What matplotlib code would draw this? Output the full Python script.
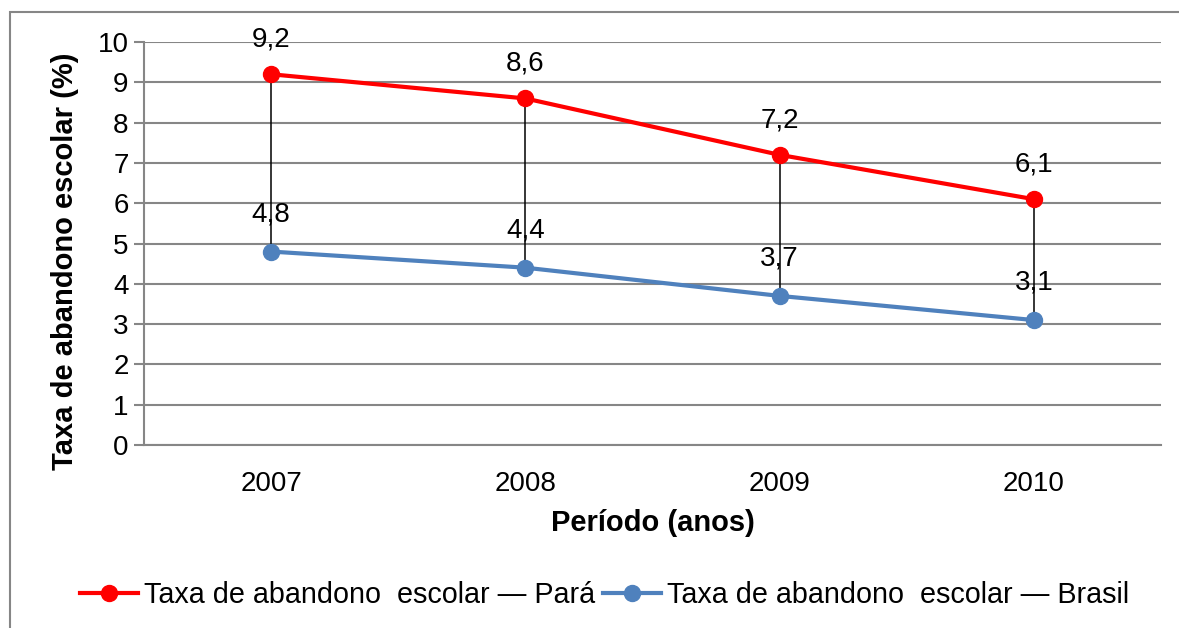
import matplotlib.pyplot as plt
from matplotlib.patches import Rectangle

plt.rcParams['font.family'] = ['Liberation Sans', 'DejaVu Sans']

anos = ['2007', '2008', '2009', '2010']
para = [9.2, 8.6, 7.2, 6.1]
brasil = [4.8, 4.4, 3.7, 3.1]
rotulo_para = 'Taxa de abandono  escolar — Pará'
rotulo_brasil = 'Taxa de abandono  escolar — Brasil'

cinza = '#868686'
vermelho = '#FF0000'
azul = '#4F81BD'

fig = plt.figure(figsize=(11.79, 6.28), dpi=100)
# moldura externa do gráfico (cortada à direita e embaixo)
fig.patches.append(Rectangle((10 / 1179, -0.05), 1.2, 0.9809 + 0.05, transform=fig.transFigure,
                             fill=False, edgecolor=cinza, linewidth=1.5))
ax = fig.add_axes([0.1221, 0.2914, 0.8626, 0.6417])

x = range(len(anos))

# linhas de máximo/mínimo
ax.vlines(x, brasil, para, color='black', linewidth=1.1, zorder=3)

ax.plot(x, para, color=vermelho, linewidth=3, marker='o', markersize=11.5, label=rotulo_para, zorder=4)
ax.plot(x, brasil, color=azul, linewidth=3, marker='o', markersize=11.5, label=rotulo_brasil, zorder=4)

for i in x:
    ax.annotate(str(para[i]).replace('.', ','), (i, para[i]), xytext=(0, 25), textcoords='offset points',
                ha='center', va='center', fontsize=20, zorder=5)
    ax.annotate(str(brasil[i]).replace('.', ','), (i, brasil[i]), xytext=(0, 27), textcoords='offset points',
                ha='center', va='center', fontsize=20, zorder=2)

ax.set_xlim(-0.5, 3.5)
ax.set_ylim(0, 10)
ax.set_yticks(range(0, 11))
ax.set_xticks(list(x))
ax.set_xticklabels(anos)
ax.yaxis.grid(True, color=cinza, linewidth=1.5)
ax.set_axisbelow(True)
for lado in ['top', 'right']:
    ax.spines[lado].set_visible(False)
for lado in ['left', 'bottom']:
    ax.spines[lado].set_color(cinza)
    ax.spines[lado].set_linewidth(1.5)
ax.tick_params(axis='y', length=7, width=1.5, color=cinza, labelsize=20, pad=4)
ax.tick_params(axis='x', length=0, labelsize=20, pad=19)

ax.set_xlabel('Período (anos)', fontsize=21, fontweight='bold', labelpad=8)
ax.set_ylabel('Taxa de abandono escolar (%)', fontsize=21, fontweight='bold')
ax.yaxis.set_label_coords(-0.064, 0.457)

ax.legend(loc='center', bbox_to_anchor=(0.453, -0.372), ncol=2, frameon=False, fontsize=20.7,
          handlelength=2.0, handletextpad=0.2, columnspacing=0.3, borderaxespad=0)

fig.savefig('out.png', dpi=100)
